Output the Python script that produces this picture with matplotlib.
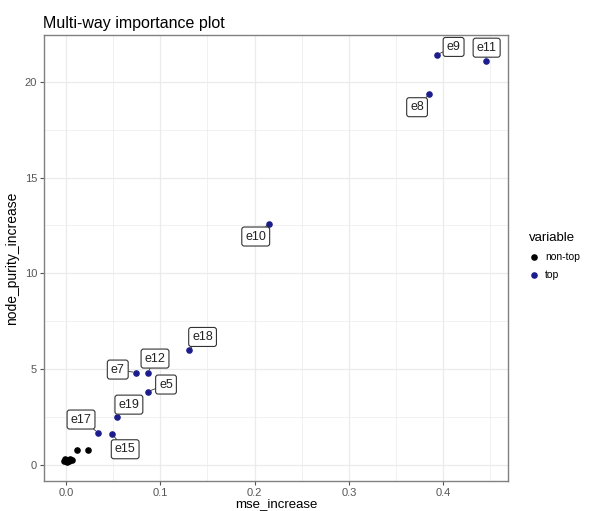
import numpy as np
import matplotlib
matplotlib.use("Agg")
from matplotlib import pyplot as plt
from matplotlib.ticker import MultipleLocator

plt.rcParams['font.family'] = ['Liberation Sans', 'DejaVu Sans']

# importance measures for the top variables
top_names = ["e9", "e11", "e8", "e10", "e18", "e12", "e7", "e5", "e19", "e17", "e15"]
top_mse = [0.393, 0.445, 0.385, 0.215, 0.130, 0.087, 0.074, 0.087, 0.054, 0.034, 0.049]
top_purity = [21.4, 21.1, 19.35, 12.6, 6.0, 4.82, 4.82, 3.83, 2.52, 1.69, 1.6]

# the remaining (non-top) variables
rest_mse = [0.000, -0.002, 0.002, 0.004, 0.001, 0.006, -0.001, 0.003, 0.012, 0.023]
rest_purity = [0.22, 0.18, 0.25, 0.30, 0.15, 0.28, 0.31, 0.20, 0.78, 0.78]

# label placement (pixels from the point), like ggrepel would push them
label_shift = {
    "e9": (17, 8), "e11": (1, 13), "e8": (-12, -13), "e10": (-13, -13),
    "e18": (14, 13), "e12": (7, 14), "e7": (-18, 3), "e5": (18, 7),
    "e19": (12, 12), "e17": (-17, 13), "e15": (13, -15),
}

navy = "#1c1c8c"
grid_col = "#ebebeb"

fig = plt.figure(figsize=(5.92, 5.11), dpi=100)
ax = fig.add_axes([0.0743, 0.0587, 0.7838, 0.8728])

ax.scatter(rest_mse, rest_purity, s=14, color="black", zorder=3, label="non-top")
ax.scatter(top_mse, top_purity, s=14, color=navy, zorder=3, label="top")

for name, xv, yv in zip(top_names, top_mse, top_purity):
    dx, dy = label_shift[name]
    ax.annotate(name, (xv, yv), xytext=(dx, dy), textcoords="offset pixels",
                ha="center", va="center", fontsize=9, color="#222222", zorder=4,
                bbox=dict(boxstyle="round,pad=0.28,rounding_size=0.2",
                          fc="white", ec="#333333", lw=0.8),
                arrowprops=dict(arrowstyle="-", color="#333333", lw=0.6,
                                shrinkA=0, shrinkB=2))

ax.set_xlim(-0.0233, 0.4687)
ax.set_ylim(-0.84, 22.44)
ax.xaxis.set_major_locator(MultipleLocator(0.1))
ax.xaxis.set_minor_locator(MultipleLocator(0.05))
ax.yaxis.set_major_locator(MultipleLocator(5))
ax.yaxis.set_minor_locator(MultipleLocator(2.5))
ax.set_xticks([0.0, 0.1, 0.2, 0.3, 0.4])
ax.set_xticklabels(["0.0", "0.1", "0.2", "0.3", "0.4"])

ax.grid(which="major", color=grid_col, lw=0.9, zorder=0)
ax.grid(which="minor", color=grid_col, lw=0.5, zorder=0)
ax.set_axisbelow(True)
ax.tick_params(which="major", length=3, width=0.8, color="#555555",
               labelsize=8, labelcolor="#555555", pad=2)
ax.tick_params(which="minor", length=0)
for sp in ax.spines.values():
    sp.set_color("#808080")
    sp.set_linewidth(1.0)

ax.set_xlabel("mse_increase", fontsize=9.5, labelpad=0)
ax.set_ylabel("node_purity_increase", fontsize=10, labelpad=4)
ax.set_title("Multi-way importance plot", fontsize=11.5, loc="left", pad=5, x=-0.002)

leg = ax.legend(title="variable", loc="upper left", bbox_to_anchor=(0.886, 0.555),
                bbox_transform=fig.transFigure, frameon=False, fontsize=7.5,
                title_fontsize=9.5, handletextpad=0.6, labelspacing=0.8,
                borderaxespad=0, handlelength=1.0)
leg._legend_box.align = "left"

fig.savefig("out.png", dpi=100)
